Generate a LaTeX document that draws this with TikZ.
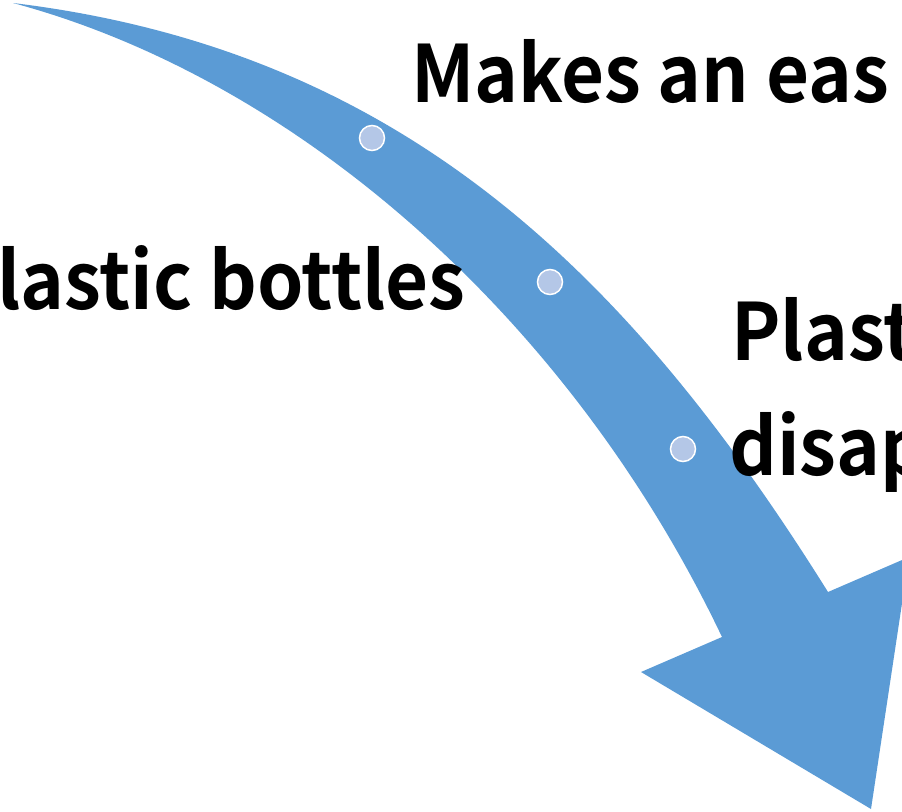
\documentclass[tikz,border=0pt]{standalone}
\usepackage{fontspec}
\newfontfamily\lblfont[FakeStretch=0.94]{Noto Sans CJK JP Bold}
\definecolor{arrowblue}{HTML}{5B9BD5}
\definecolor{dotblue}{HTML}{B4C7E7}
\begin{document}
\begin{tikzpicture}[x=1pt,y=-1pt,
  dot/.style={circle,fill=dotblue,draw=white,line width=1.5pt,minimum size=25pt,inner sep=0pt},
  lbl/.style={anchor=base west,inner sep=0pt,font=\lblfont\fontsize{79}{115}\selectfont}]
\useasboundingbox (0,0) rectangle (902,811);
\clip (0,0) rectangle (902,811);
\fill[arrowblue] (13,3) .. controls (400,50) and (628,272) .. (828,592) -- (909,557) -- (871,809) -- (641,672) -- (722,637) .. controls (572,322) and (300,80) .. (13,3) -- cycle;
\node[dot] (d1) at (372,138) {};
\node[dot] (d2) at (550,282) {};
\node[dot] (d3) at (683,449) {};
\node[lbl] (t1) at (411,102) {Makes an eas};
\node[lbl] (t2) at (-3,309) {lastic bottles};
\node[lbl] (t3) at (731,360) {Plast};
\node[lbl] (t4) at (729,475) {disap};
\end{tikzpicture}
\end{document}
